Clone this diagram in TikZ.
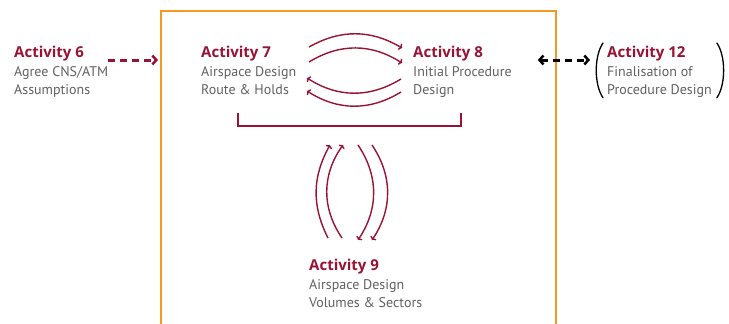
\documentclass[tikz,border=0pt]{standalone}
\usepackage{fontspec}
\setmainfont{PT Sans}
\newfontfamily\titlefont{Open Sans}
\usetikzlibrary{positioning}
\usetikzlibrary{arrows.meta}
\definecolor{actred}{RGB}{152,18,52}
\definecolor{boxorange}{RGB}{243,154,30}
\definecolor{txtgray}{RGB}{96,96,98}
\newcommand{\acttitle}[1]{{\color{actred}\titlefont\bfseries\fontsize{15}{18.5}\selectfont #1}}

\begin{document}
\begin{tikzpicture}[x=1pt,y=1pt,
activity/.style={inner sep=0pt, anchor=north west, align=left, text=txtgray, font=\fontsize{14}{18.5}\selectfont},
    flow/.style={actred, line width=1.4pt, -{To[length=3pt,width=7pt]}},
    input/.style={actred, line width=3pt, dash pattern=on 7pt off 5pt, -{Straight Barb[length=4pt,width=9pt,line width=2.5pt]}},
    link/.style={black, line width=3pt, dash pattern=on 7pt off 5pt, {Straight Barb[length=4pt,width=9pt,line width=2.5pt]}-{Straight Barb[length=4pt,width=9pt,line width=2.5pt]}},
    paren/.style={black, line width=1.3pt, line cap=round}]
\useasboundingbox (0,0) rectangle (729,-324);

\coordinate (boxnw) at (161,-11);
\coordinate (boxne) at (556,-11);
\draw[boxorange, line width=1.5pt] (161,-326) -- (boxnw) -- (boxne) -- (556,-326);

\node[activity] (a6) at (14,-46) {\acttitle{Activity 6}\\Agree CNS/ATM\\Assumptions};
\node[activity] (a7) at (201,-46) {\acttitle{Activity 7}\\Airspace Design\\Route \& Holds};
\node[activity] (a8) at (413,-46) {\acttitle{Activity 8}\\Initial Procedure\\Design};
\node[activity] (a9) at (309,-259) {\acttitle{Activity 9}\\Airspace Design\\Volumes \& Sectors};
\node[activity] (a12) at (607,-46) {\acttitle{Activity 12}\\Finalisation of\\Procedure Design};

% brackets round activity 12
\draw[paren] ([shift={(-4,3)}]a12.north west) .. controls +(-9,-13) and +(-9,13) .. ([shift={(-4,0)}]a12.south west);
\draw[paren] ([shift={(5,3)}]a12.north east) .. controls +(9,-13) and +(9,13) .. ([shift={(5,0)}]a12.south east);

\coordinate (brl) at (238,-113);
\coordinate (brr) at (461,-113);
\coordinate (brm) at (349.5,-126);
\draw[actred, line width=2pt] (brl) |- (brm) -| (brr);

\draw[input] (a6.east |- 0,-60) -- ([shift={(-3,-49)}]boxnw);
\draw[link] ([shift={(26,-14)}]a8.north east) -- ([shift={(-17,-14)}]a12.north west);

\draw[flow] ([shift={(108,-1)}]a7.north west) to[bend left=30] ([shift={(-11,-2)}]a8.north west);
\draw[flow] ([shift={(108,-16)}]a7.north west) to[bend left=32] ([shift={(-11,-17)}]a8.north west);
\draw[flow] ([shift={(-12,-33)}]a8.north west) to[bend left=32] ([shift={(106,-32)}]a7.north west);
\draw[flow] ([shift={(-12,-46)}]a8.north west) to[bend left=32] ([shift={(106,-45)}]a7.north west);

\draw[flow] ([shift={(19,21)}]a9.north west) to[bend left=28] ([shift={(-19.5,-19)}]brm);
\draw[flow] ([shift={(33,21)}]a9.north west) to[bend left=35] ([shift={(-6.5,-19)}]brm);
\draw[flow] ([shift={(8.5,-19)}]brm) to[bend left=34] ([shift={(49,19)}]a9.north west);
\draw[flow] ([shift={(22.5,-19)}]brm) to[bend left=34] ([shift={(63,19)}]a9.north west);
\end{tikzpicture}
\end{document}
